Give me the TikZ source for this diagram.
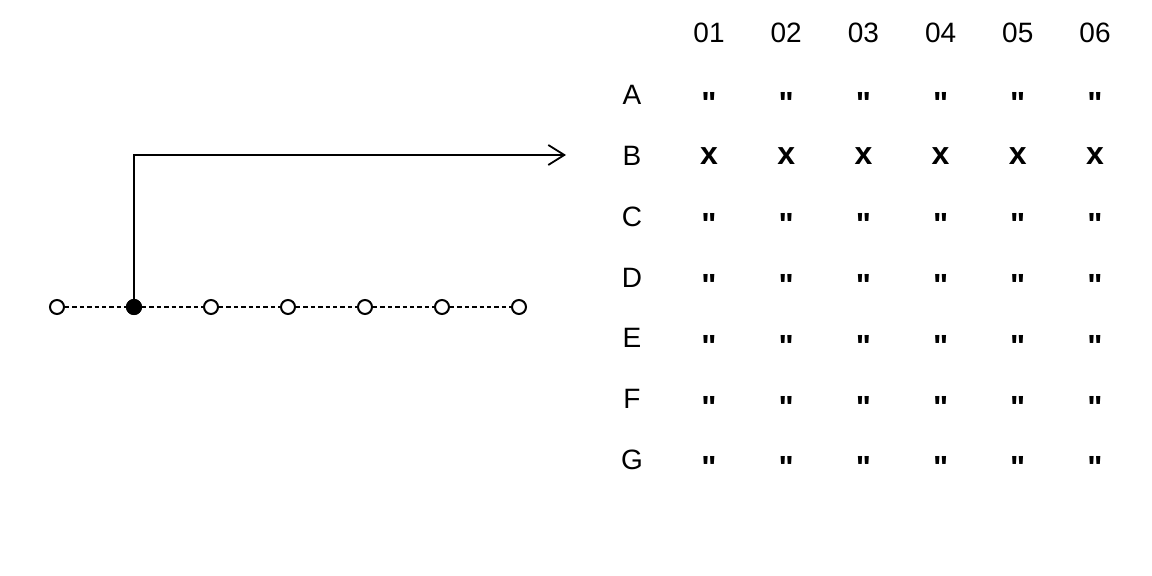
\documentclass[tikz,border=0pt]{standalone}
\usepackage{fontspec}
\setmainfont{Liberation Sans}
\usetikzlibrary{arrows.meta}
\begin{document}
\begin{tikzpicture}[x=.5pt,y=-.5pt,font=\fontsize{14}{16}\selectfont,
  dot/.style={circle,draw,line width=1pt,fill=white,inner sep=0pt,minimum size=7pt},
  cell/.style={inner sep=0pt,font=\fontsize{16}{18}\selectfont\bfseries},
  ditto/.style={cell,yshift=-4pt}]
\useasboundingbox (0,0) rectangle (1152,576);
% points on the line
\foreach \i in {0,...,6} \node[dot] (P\i) at (57+77*\i,307) {};
\node[dot,fill=black] at (P1) {};
\foreach \i/\j in {0/1,1/2,2/3,3/4,4/5,5/6}
  \draw[line width=.7pt,dash pattern=on 2.2pt off 1.5pt] (P\i)--(P\j);
\coordinate (T) at (566,155);
\draw[line width=.9pt,-{Straight Barb[length=8pt,width=10pt]}] (P1) |- (T);
% table
\foreach \c [count=\j] in {01,02,03,04,05,06}
  \node (H\j) at (709+77.2*\j-77.2,33) {\c};
\foreach \r/\s [count=\i] in {A/ditto,B/cell,C/ditto,D/ditto,E/ditto,F/ditto,G/ditto}{
  \node (R\r) at (632,95+60.8*\i-60.8) {\r};
  \foreach \j in {1,...,6}
    \node[\s] (\r\j) at (H\j|-R\r) {\ifnum\i=2 x\else\textquotedbl\fi};
}
\end{tikzpicture}
\end{document}
